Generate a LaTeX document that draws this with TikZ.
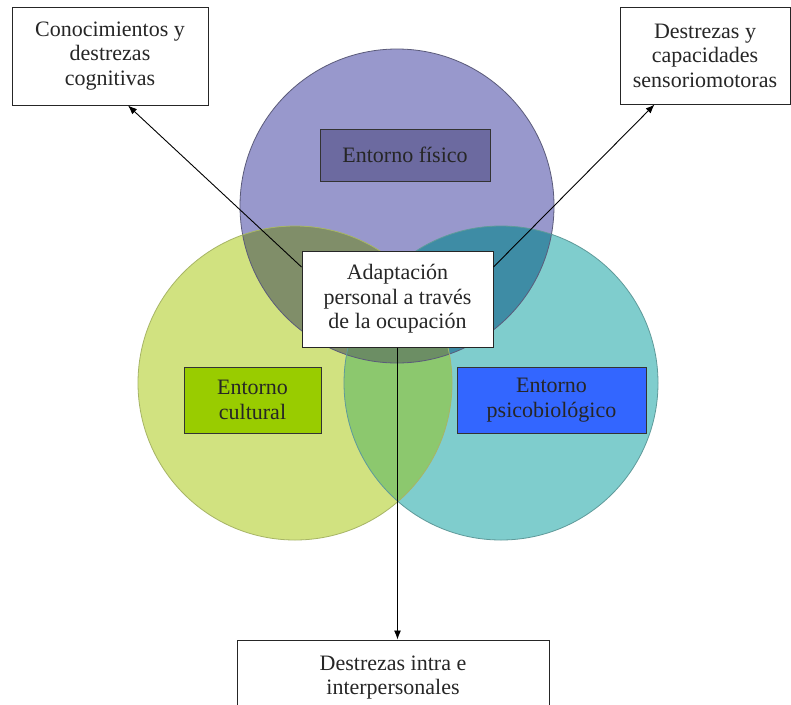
\documentclass[tikz,border=0pt]{standalone}
\usepackage{fontspec}
\setmainfont{Liberation Serif}
\usepackage{tikz}
\usetikzlibrary{calc,positioning,arrows.meta}
\definecolor{cfis}{RGB}{152,152,204}
\definecolor{ccul}{RGB}{209,226,128}
\definecolor{cpsi}{RGB}{127,205,205}
\definecolor{cfiscul}{RGB}{128,142,105}
\definecolor{cfispsi}{RGB}{62,140,165}
\definecolor{cculpsi}{RGB}{140,200,110}
\definecolor{call}{RGB}{108,142,100}
\definecolor{efis}{RGB}{108,106,160}
\definecolor{ecul}{RGB}{153,204,0}
\definecolor{epsi}{RGB}{51,102,255}
\tikzset{lbox/.style={draw=black!85,line width=1pt,fill=white,align=center,inner
sep=0pt,text=black!85,font=\fontsize{22}{24.5}\selectfont},ebox/.style={draw=black!80,line
width=1pt,align=center,inner sep=0pt,text=black!85,font=\fontsize{22}{24.5}\selectfont}}
\tikzstyle{arrow}     = [line width=0.9pt,-{Latex[length=9pt,width=7pt]}]
\tikzstyle{rim}       = [line width=0.8pt]

\begin{document}
\begin{tikzpicture}[x=1pt,y=-1pt]
		\clip (0,0) rectangle (791,704);
		\fill[white] (0,0) rectangle (791,704);
		% the three circles
		\coordinate (ctop) at (397,206);
		\coordinate (cleft) at (295,383);
		\coordinate (cright) at (501,383);
		\fill[cfis] (ctop) circle (157pt);
		\fill[ccul] (cleft) circle (157pt);
		\fill[cpsi] (cright) circle (157pt);
		\begin{scope}
			\clip (ctop) circle (157pt);
			\fill[cfiscul] (cleft) circle (157pt);
			\fill[cfispsi] (cright) circle (157pt);
		\end{scope}
		\begin{scope}
			\clip (cleft) circle (157pt);
			\fill[cculpsi] (cright) circle (157pt);
			\clip (cright) circle (157pt);
			\fill[call] (ctop) circle (157pt);
		\end{scope}
		\draw[rim,draw=cfis!60!black] (ctop) circle (157pt);
		\draw[rim,draw=ccul!80!black] (cleft) circle (157pt);
		\draw[rim,draw=cpsi!75!black] (cright) circle (157pt);
		% boxes
		\node[ebox,fill=efis,minimum width=170pt,minimum height=52pt] (fis) at (405,155) {Entorno físico};
		\node[ebox,fill=ecul,minimum width=137pt,minimum height=66pt] (cul) at (252.5,400) {Entorno\\cultural};
		\node[ebox,fill=epsi,minimum width=189pt,minimum height=66pt] (psi) at (551.5,400) {Entorno\\psicobiológico};
		\node[lbox,minimum width=191pt,minimum height=96pt] (cen) at (397.5,299) {Adaptación\\personal a través\\de la ocupación};
		\node[lbox,minimum width=196pt,minimum height=98pt] (cog) at (110,56) {Conocimientos y\\destrezas\\cognitivas};
		\node[lbox,minimum width=170pt,minimum height=97pt] (sen) at (705,55.5) {Destrezas y\\capacidades\\sensoriomotoras};
		\node[lbox,minimum width=312pt,minimum height=75pt] (bot) at (393,677.5) {Destrezas intra e\\interpersonales};
		% arrows
		\draw[arrow] ($(cen.north west)!0.17!(cen.south west)$) -- ($(cog.south)+(18,0)$);
		\draw[arrow] ($(cen.north east)!0.17!(cen.south east)$) -- ($(sen.south west)+(35,0)$);
		\draw[arrow] (cen.south) -- (cen.south |- bot.north);
	\end{tikzpicture}
\end{document}
